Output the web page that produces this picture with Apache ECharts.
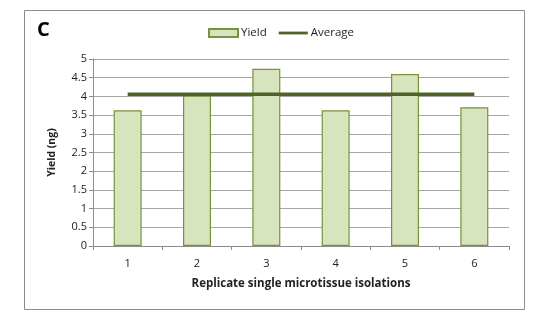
<!DOCTYPE html>
<html><head><meta charset="utf-8">
<script src="https://cdn.jsdelivr.net/npm/echarts@6/dist/echarts.min.js"></script>
<style>html,body{margin:0;padding:0;background:#fff}#c{width:549px;height:322px}</style>
</head><body><div id="c"></div>
<script>
const categories = ['1','2','3','4','5','6'];
const yieldValues = [3.63, 4.02, 4.74, 3.63, 4.60, 3.71];
const averageValues = [4.06, 4.06, 4.06, 4.06, 4.06, 4.06];
const yTicks = ['0','0.5','1','1.5','2','2.5','3','3.5','4','4.5','5'];

const chart = echarts.init(document.getElementById('c'), null, {renderer:'canvas'});
const FONT = 'Open Sans';
chart.setOption({
  animation: false,
  textStyle: {fontFamily: FONT},
  graphic: [
    {type:'rect', shape:{x:24.5, y:10.5, width:500, height:299}, style:{fill:'none', stroke:'#8c8c8c', lineWidth:1}, z:-1},
    {type:'text', left:37, top:20, style:{text:'C', font:'bold 20px "Open Sans"', fill:'#000'}}
  ],
  legend: {
    top: 22, left: 203,
    itemGap: 12, itemWidth: 29, itemHeight: 8,
    textStyle: {fontFamily: FONT, fontSize: 11.5, color: '#222', padding:[0,0,0,-2]},
    data: [
      {name:'Yield', icon:'rect'},
      {name:'Average', icon:'path://M0,2.6 L29,2.6 L29,5.4 L0,5.4 Z'}
    ]
  },
  grid: {left: 93, right: 40, top: 59, bottom: 76, containLabel: false},
  xAxis: {
    type: 'category', data: categories,
    name: 'Replicate single microtissue isolations',
    nameLocation: 'middle', nameGap: 32,
    nameTextStyle: {fontFamily: FONT, fontSize: 11.5, fontWeight: 'bold', color:'#222'},
    axisLine: {lineStyle: {color:'#8c8c8c'}},
    axisTick: {show:true, alignWithLabel:false, length:4, lineStyle:{color:'#8c8c8c'}},
    axisLabel: {color:'#222', fontSize: 11, margin: 12}
  },
  yAxis: {
    type: 'value', min: 0, max: 5, interval: 0.5,
    name: 'Yield (ng)', nameLocation: 'middle', nameGap: 35, nameRotate: 90,
    nameTextStyle: {fontFamily: FONT, fontSize: 10.5, fontWeight: 'bold', color:'#222'},
    axisLine: {show:true, lineStyle: {color:'#8c8c8c'}},
    axisTick: {show:true, length:4, lineStyle:{color:'#8c8c8c'}},
    axisLabel: {color:'#222', fontSize: 11, margin: 6, formatter: (v)=> yTicks[Math.round(v*2)]},
    splitLine: {lineStyle: {color:'#a6a6a6'}}
  },
  series: [
    {name:'Yield', type:'bar', data: yieldValues, barWidth: 28,
     itemStyle:{color:'#d7e4bd', borderColor:'#77933c', borderWidth:1.2}},
    {name:'Average', type:'line', data: averageValues, symbol:'none',
     lineStyle:{color:'#4f6228', width:3.5}, itemStyle:{color:'#4f6228'}, z:5}
  ]
});
</script></body></html>
